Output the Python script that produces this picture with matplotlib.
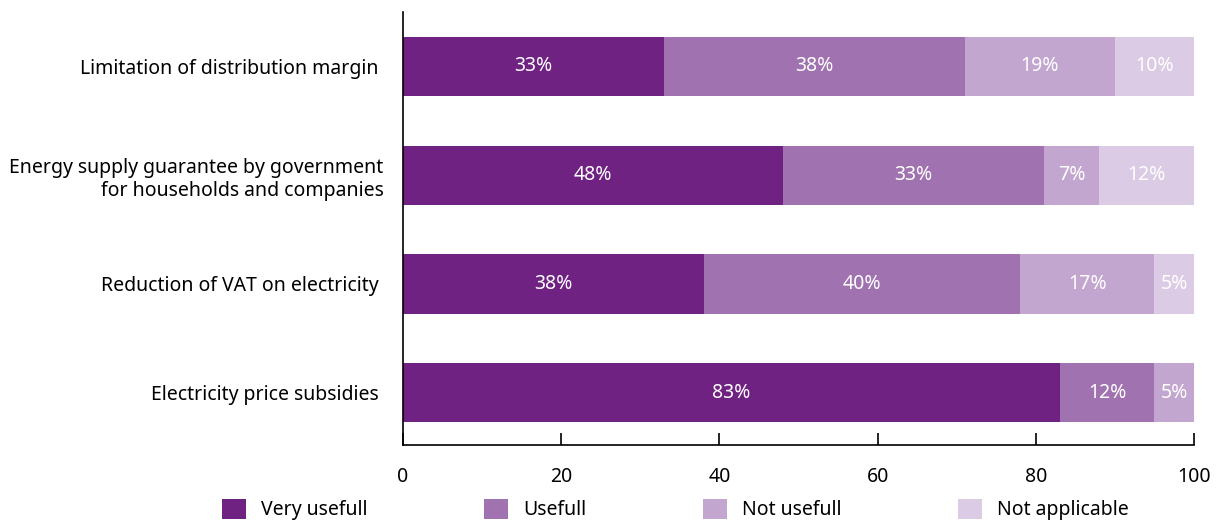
import matplotlib.pyplot as plt
import numpy as np

plt.rcParams['font.family'] = ['Noto Sans', 'DejaVu Sans']
narrow = ['Liberation Sans Narrow', 'Noto Sans', 'DejaVu Sans']

measures = ['Limitation of distribution margin ',
            'Energy supply guarantee by government\nfor households and companies',
            'Reduction of VAT on electricity ',
            'Electricity price subsidies ']
very_usefull = [33, 48, 38, 83]
usefull = [38, 33, 40, 12]
not_usefull = [19, 7, 17, 5]
not_applicable = [10, 12, 5, 0]

series = [('Very usefull', very_usefull, '#6f2282'),
          ('Usefull', usefull, '#a073b0'),
          ('Not usefull', not_usefull, '#c2a6cf'),
          ('Not applicable', not_applicable, '#dccbe4')]

fig = plt.figure(figsize=(12.19, 5.22), dpi=100)
ax = fig.add_axes([0.3306, 0.1475, 0.6489, 0.8295])

y = np.arange(len(measures))
left = np.zeros(len(measures))
for name, vals, col in series:
    vals = np.array(vals, dtype=float)
    bars = ax.barh(y, vals, left=left, height=0.545, color=col, label=name)
    for b, v in zip(bars, vals):
        if v > 0:
            ax.text(b.get_x() + b.get_width() / 2, b.get_y() + b.get_height() / 2,
                    '%d%%' % v, ha='center', va='center', color='white',
                    fontsize=14, family=narrow)
    left += vals

ax.set_xlim(0, 100)
ax.set_ylim(3.48, -0.5)
ax.set_yticks(y)
ax.set_yticklabels(measures, fontsize=14, ha='right')
ax.tick_params(axis='y', length=0, pad=14)
ax.set_xticks([0, 20, 40, 60, 80, 100])
ax.tick_params(axis='x', direction='in', length=9, width=1.2, pad=16)
for lab in ax.get_xticklabels():
    lab.set_family(narrow)
    lab.set_fontsize(14)
for s in ['top', 'right']:
    ax.spines[s].set_visible(False)
for s in ['left', 'bottom']:
    ax.spines[s].set_linewidth(1.2)
    ax.spines[s].set_color('black')

fig.legend(loc='lower center', bbox_to_anchor=(0.554, -0.03), ncol=4, frameon=False,
           fontsize=14, handlelength=1.25, handleheight=1.2, columnspacing=6.0,
           handletextpad=0.75)

fig.savefig('out.png', dpi=100)
